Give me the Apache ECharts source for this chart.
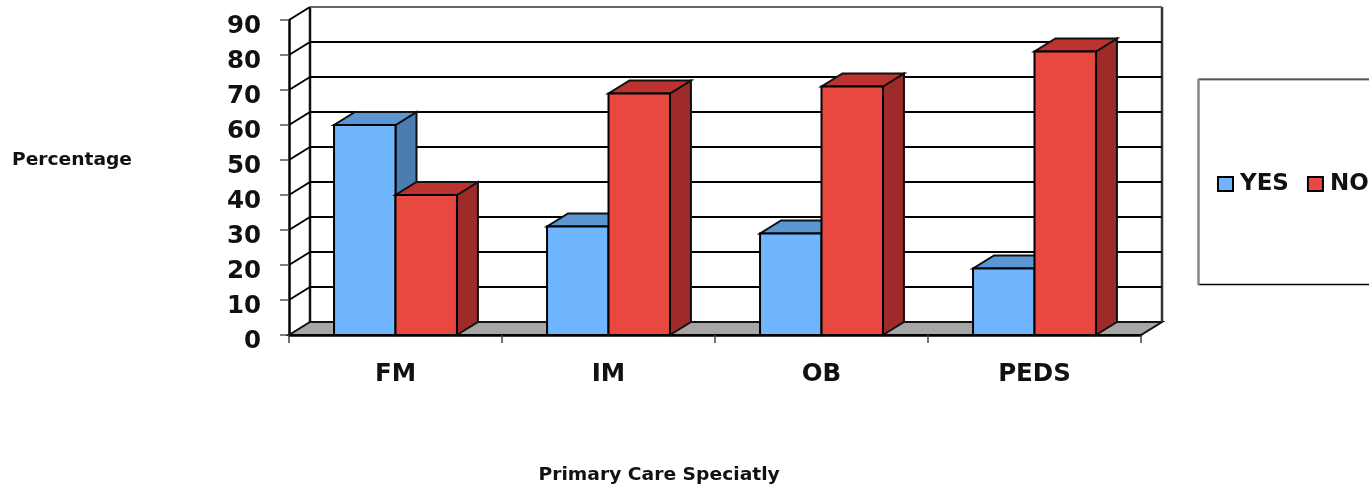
<!DOCTYPE html>
<html><head><meta charset="utf-8">
<style>html,body{margin:0;padding:0;background:#fff}#c{width:1369px;height:485px}</style>
<script src="https://cdn.jsdelivr.net/npm/echarts@6/dist/echarts.min.js"></script>
</head><body><div id="c"></div>
<script>
const categories = ['FM','IM','OB','PEDS'];
const yesValues = [60,31,29,19];
const noValues = [40,69,71,81];
const yTicks = [0,10,20,30,40,50,60,70,80,90];
const FONT = '"DejaVu Sans", Verdana, sans-serif';
const DX = 21, DY = -13;
const poly = (points, fill, stroke, lw) => ({type:'polygon', shape:{points}, style:{fill, stroke, lineWidth:lw}});
const line = (x1,y1,x2,y2,stroke,lw) => ({type:'line', shape:{x1,y1,x2,y2}, style:{stroke, lineWidth:lw, fill:null}});

function wallItem(params, api){
  const cs = params.coordSys;
  const v = api.value(1);
  const y = api.coord([0, v])[1];
  const xl = cs.x, xr = cs.x + cs.width;
  const children = [];
  if (v === 0) {
    children.push(poly([[xl,y],[xr,y],[xr+DX,y+DY],[xl+DX,y+DY]], '#a6a6a6', '#111', 2));
    children.push(line(xl+DX,y+DY,xl+DX,cs.y+DY,'#111',2.5));
    children.push(line(xr+DX,y+DY,xr+DX,cs.y+DY,'#333',2.5));
  } else {
    const top = v === yTicks[yTicks.length-1];
    children.push(line(xl+DX,y+DY,xr+DX,y+DY, top?'#666':'#000', 2));
    children.push(line(xl,y,xl+DX,y+DY,'#000',2));
  }
  return {type:'group', children};
}
function barItem(offsetSign, colors){
  return function(params, api){
    const x = api.value(0), v = api.value(1);
    const base = api.coord([x,0]), topP = api.coord([x,v]);
    const w = api.size([1,0])[0]*0.2885;
    const x1 = offsetSign<0 ? base[0]-w : base[0];
    const x2 = x1 + w;
    const yT = topP[1], yB = base[1];
    return {type:'group', children:[
      poly([[x2,yB],[x2+DX,yB+DY],[x2+DX,yT+DY],[x2,yT]], colors.side, '#111', 2),
      poly([[x1,yT],[x2,yT],[x2+DX,yT+DY],[x1+DX,yT+DY]], colors.top, '#111', 2),
      poly([[x1,yB],[x2,yB],[x2,yT],[x1,yT]], colors.front, '#000', 2)
    ]};
  };
}
const blue = {front:'#70b6ff', top:'#5a97d2', side:'#4a7db0'};
const red = {front:'#e84840', top:'#bc332f', side:'#9e2b2a'};

const chart = echarts.init(document.getElementById('c'), null, {renderer:'canvas'});
chart.setOption({
  animation:false,
  backgroundColor:'#fff',
  grid:{left:289, right:228, top:20, bottom:150},
  xAxis:{type:'category', data:categories, boundaryGap:true,
    axisLine:{onZero:false, lineStyle:{color:'#000',width:2.5}},
    axisTick:{show:true, length:8, lineStyle:{color:'#444',width:1.5}},
    axisLabel:{margin:27, fontFamily:FONT, fontWeight:'bold', fontSize:24.5, color:'#111'},
    splitLine:{show:false}, z:5},
  yAxis:{type:'value', min:0, max:90, interval:10,
    axisLine:{show:true, lineStyle:{color:'#000',width:2.5}},
    axisTick:{show:true, length:9, lineStyle:{color:'#555',width:1.5}},
    axisLabel:{margin:28, fontFamily:FONT, fontWeight:'bold', fontSize:24.5, color:'#111', verticalAlign:'top', lineHeight:14},
    splitLine:{show:false}},
  legend:{orient:'horizontal', left:1217, top:171, width:300, padding:0, data:['YES','NO'], icon:'rect', itemWidth:15, itemHeight:14, itemGap:18,
    textStyle:{fontFamily:FONT, fontWeight:'bold', fontSize:23, color:'#111', verticalAlign:'top', lineHeight:26, padding:[0,0,0,2]}},
  graphic:[
    {type:'rect', z:-1, shape:{x:1198.5,y:79.5,width:190,height:205}, style:{fill:'#fff',stroke:'#000',lineWidth:1.5}},
    {type:'line', z:-1, shape:{x1:1198.5,y1:79,x2:1369,y2:79}, style:{stroke:'#777',lineWidth:1.5}},
    {type:'line', z:-1, shape:{x1:1198.5,y1:79,x2:1198.5,y2:285}, style:{stroke:'#888',lineWidth:2}},
    {type:'text', x:12, y:161, scaleX:1.097, style:{text:'Percentage', font:'bold 17px '+FONT, fill:'#111', textVerticalAlign:'middle', verticalAlign:'middle'}},
    {type:'text', x:538.5, y:475.5, scaleX:1.1, style:{text:'Primary Care Speciatly', font:'bold 17px '+FONT, fill:'#111', textVerticalAlign:'middle', verticalAlign:'middle'}}
  ],
  series:[
    {type:'custom', name:'walls', silent:true, clip:false, z:1,
      data:yTicks.map(v=>[0,v]), encode:{x:0,y:1}, renderItem:wallItem},
    {type:'custom', name:'YES', clip:false, z:2, itemStyle:{color:blue.front, borderColor:'#000', borderWidth:2},
      data:yesValues.map((v,i)=>[i,v]), encode:{x:0,y:1}, renderItem:barItem(-1,blue)},
    {type:'custom', name:'NO', clip:false, z:3, itemStyle:{color:red.front, borderColor:'#000', borderWidth:2},
      data:noValues.map((v,i)=>[i,v]), encode:{x:0,y:1}, renderItem:barItem(1,red)}
  ]
});
</script></body></html>
